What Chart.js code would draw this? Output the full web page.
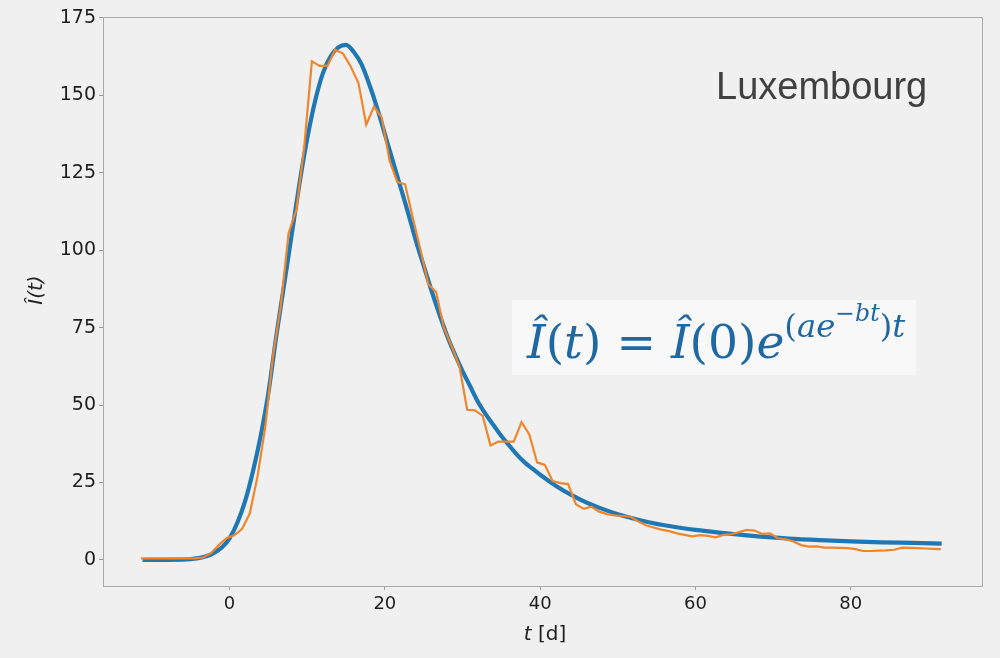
<!DOCTYPE html>
<html>
<head>
<meta charset="utf-8">
<script src="https://cdn.jsdelivr.net/npm/chart.js@4.4.1/dist/chart.umd.min.js"></script>
<style>
    html, body { margin: 0; padding: 0; background: #f0f0f0; }
    #wrap { width: 1000px; height: 658px; }
</style>
</head>
<body>
<div id="wrap"><canvas id="chart" width="1000" height="658"></canvas></div>
<script>
// Daily observations, first sample at t = -11.4 d
const days = Array.from({ length: 104 }, (_, i) => +(i - 11.4).toFixed(1));
const observed = [
    0.5, 0.5, 0.5, 0.5, 0.5, 0.5, 0.5, 0.5, 0.8, 2.2,
    4.8, 7, 8, 10, 15, 27, 43, 66, 82, 105.5,
    113, 133, 161, 159.5, 159.5, 164.7, 163.5, 159.3, 154, 140.5,
    146.4, 142.8, 129, 122, 121.3, 110.5, 100, 89, 86.5, 75,
    69, 62.5, 48.5, 48.3, 46.5, 37, 38.2, 38.2, 38.2, 44.5,
    40.5, 31.5, 30.7, 25.5, 24.8, 24.5, 18, 16.5, 17.2, 15.6,
    14.8, 14.4, 14.2, 14, 12.5, 11.2, 10.5, 9.8, 9.3, 8.6,
    8.1, 7.6, 8, 7.8, 7.3, 8.1, 8.3, 9, 9.7, 9.5,
    8.4, 8.6, 7, 6.7, 6, 4.8, 4.3, 4.4, 4, 4,
    3.9, 3.8, 3.5, 2.9, 2.9, 3, 3.1, 3.3, 4, 3.9,
    3.8, 3.7, 3.6, 3.5
];

// Fitted curve
const fitDays = [
    -11.2, -6, -4, -3, -2, -1, 0, 1, 2, 3, 4, 5, 6, 7, 8, 9, 10, 11, 12, 13,
    14, 15, 16, 17, 18, 19, 20, 21, 22, 23, 24, 25, 26, 27, 28, 29, 30, 31, 32, 33,
    34, 35, 36, 37, 38, 39, 40, 42, 44, 46, 48, 50, 52, 54, 56, 58, 60, 64, 68, 72,
    76, 80, 84, 88, 91.7
];
const fitValues = [
    0, 0.1, 0.6, 1.2, 2.3, 4, 7, 12, 19, 28.5, 40, 54, 72, 88.5, 105, 121.5, 136, 148, 157, 162.5,
    165.5, 166.3, 164, 160, 153.5, 146, 137.5, 129, 120.5, 112, 103, 95, 87, 79.5, 72.5, 66.5, 61, 56, 51, 47,
    43.5, 40, 37, 34, 31.5, 29.5, 27.5, 24, 21, 18.5, 16.5, 14.8, 13.4, 12.2, 11.2, 10.4, 9.7, 8.6, 7.6, 6.9,
    6.4, 6, 5.7, 5.5, 5.3
];

const xTicks = [0, 20, 40, 60, 80];
const yTicks = [0, 25, 50, 75, 100, 125, 150, 175];

// Frame, axis titles, country name and the formula box
const annotations = {
    id: 'annotations',
    beforeDatasetsDraw(chart) {
        const { ctx, chartArea: a } = chart;
        ctx.save();
        ctx.strokeStyle = '#ababab';
        ctx.lineWidth = 1;
        ctx.strokeRect(a.left + 0.5, a.top + 0.5, a.right - a.left, a.bottom - a.top);
        ctx.restore();
    },
    afterDraw(chart) {
        const { ctx } = chart;
        ctx.save();
        ctx.fillStyle = '#222';

        // y title
        ctx.save();
        ctx.translate(37, 290);
        ctx.rotate(-Math.PI / 2);
        ctx.font = 'italic 20px "DejaVu Sans"';
        ctx.textAlign = 'center';
        ctx.textBaseline = 'middle';
        ctx.fillText('Î(t)', 0, 0);
        ctx.restore();

        // x title: italic t + [d]
        ctx.textBaseline = 'alphabetic';
        ctx.font = 'italic 20px "DejaVu Sans"';
        const w1 = ctx.measureText('t').width;
        ctx.font = '20px "DejaVu Sans"';
        const w2 = ctx.measureText(' [d]').width;
        let x = 545 - (w1 + w2) / 2;
        ctx.font = 'italic 20px "DejaVu Sans"';
        ctx.fillText('t', x, 640);
        ctx.font = '20px "DejaVu Sans"';
        ctx.fillText(' [d]', x + w1, 640);

        // country
        ctx.fillStyle = '#404040';
        ctx.font = '38px "Liberation Sans"';
        ctx.textAlign = 'left';
        ctx.fillText('Luxembourg', 716, 99);

        // formula box
        ctx.fillStyle = '#f8f8f8';
        ctx.fillRect(512, 300, 404, 75);
        const pieces = [
            ['Î', 1, 38, 0], ['(', 0, 38, 0], ['t', 1, 38, 0], [')', 0, 38, 0], [' = ', 0, 38, 0],
            ['Î', 1, 38, 0], ['(0)', 0, 38, 0], ['e', 1, 38, 0],
            ['(', 0, 26, 17], ['ae', 1, 26, 17],
            ['−', 0, 19, 30], ['bt', 1, 19, 30],
            [')', 0, 26, 17], ['t', 1, 26, 17]
        ];
        const fontOf = (p, k) => (p[1] ? 'italic ' : '') + (p[2] * k).toFixed(1) + 'px "DejaVu Serif"';
        let total = 0;
        pieces.forEach(p => { ctx.font = fontOf(p, 1); total += ctx.measureText(p[0]).width; });
        const k = 378 / total;
        x = 527;
        ctx.fillStyle = '#1f68a2';
        pieces.forEach(p => {
            ctx.font = fontOf(p, k);
            ctx.fillText(p[0], x, 358 - p[3] * k);
            x += ctx.measureText(p[0]).width;
        });
        ctx.restore();
    }
};

new Chart(document.getElementById('chart').getContext('2d'), {
    type: 'line',
    data: {
        datasets: [
            {
                label: 'observed',
                data: days.map((d, i) => ({ x: d, y: observed[i] })),
                borderColor: '#f0862c',
                borderWidth: 2.2,
                pointRadius: 0,
                tension: 0
            },
            {
                label: 'fit',
                data: fitDays.map((d, i) => ({ x: d, y: fitValues[i] })),
                borderColor: '#1f77b4',
                borderWidth: 4.2,
                pointRadius: 0,
                cubicInterpolationMode: 'monotone'
            }
        ]
    },
    options: {
        responsive: false,
        animation: false,
        layout: { padding: { left: 0, right: 18, top: 17, bottom: 0 } },
        plugins: { legend: { display: false }, tooltip: { enabled: false } },
        scales: {
            x: {
                type: 'linear',
                min: -16.3,
                max: 96.9,
                afterBuildTicks: s => { s.ticks = xTicks.map(v => ({ value: v })); },
                afterFit: s => { s.height = 72; },
                ticks: { font: { family: 'DejaVu Sans', size: 18 }, color: '#1e1e1e', padding: 4, maxRotation: 0 },
                grid: { drawOnChartArea: false, color: '#999', tickLength: 4 },
                border: { color: '#ababab' }
            },
            y: {
                min: -8.4,
                max: 175.3,
                afterBuildTicks: s => { s.ticks = yTicks.map(v => ({ value: v })); },
                afterFit: s => { s.width = 103; },
                ticks: { font: { family: 'DejaVu Sans', size: 19 }, color: '#1e1e1e', padding: 3 },
                grid: { drawOnChartArea: false, color: '#999', tickLength: 4 },
                border: { color: '#ababab' }
            }
        }
    },
    plugins: [annotations]
});
</script>
</body>
</html>
